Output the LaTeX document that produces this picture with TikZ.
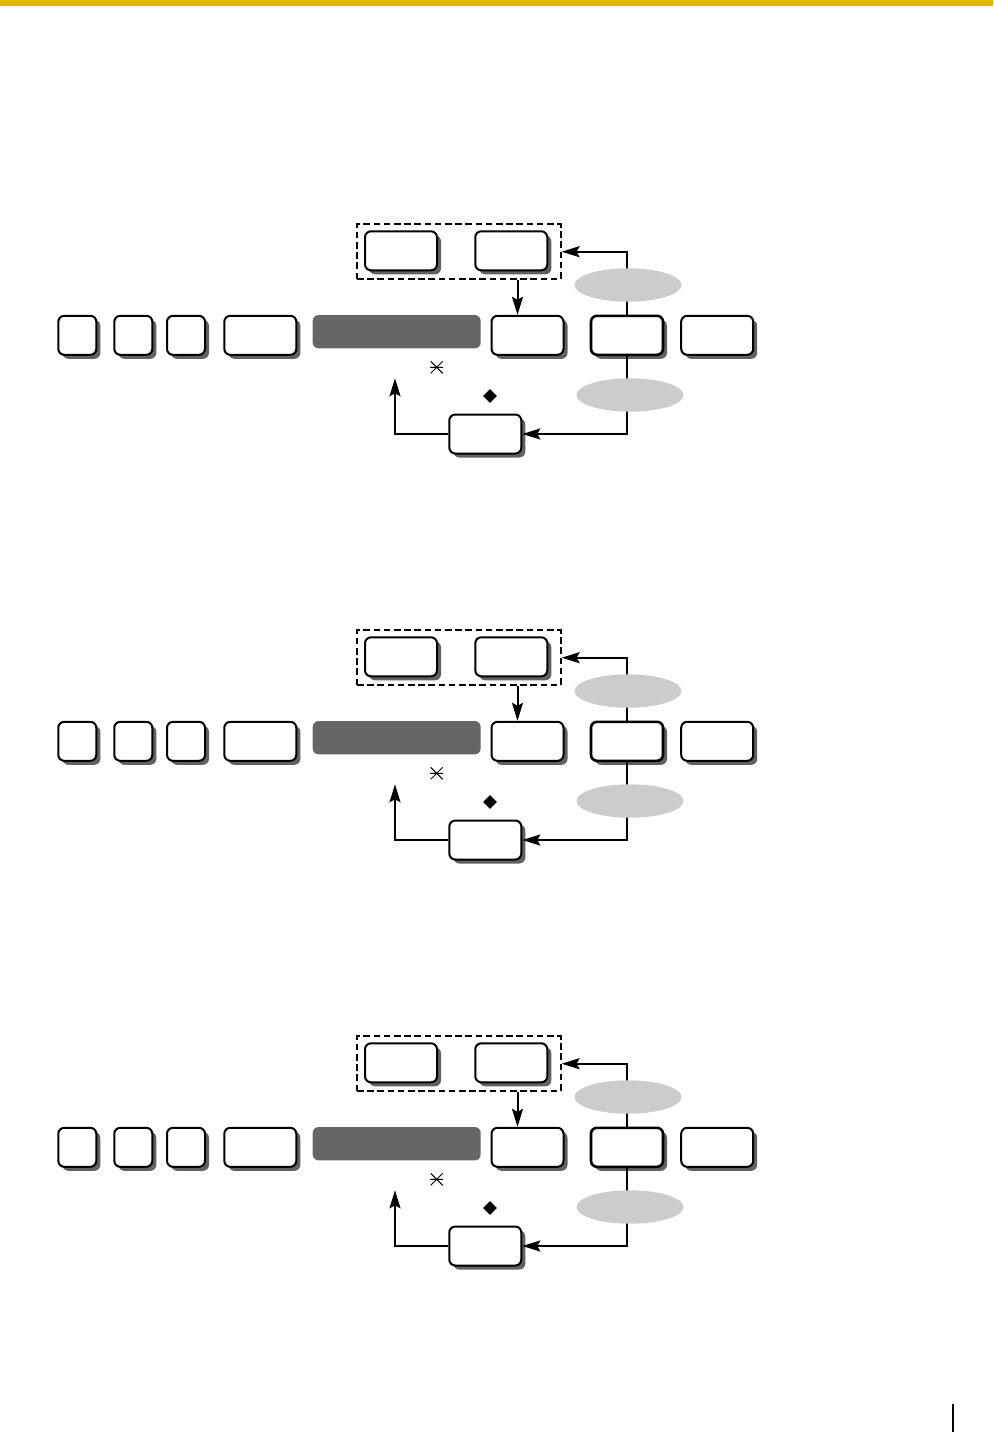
\documentclass[tikz,border=0pt]{standalone}
\usetikzlibrary{arrows.meta, calc, shadows, shapes.geometric}

\definecolor{pagegold}{RGB}{223,183,0}
\definecolor{bardark}{RGB}{102,102,102}
\definecolor{ovalgray}{RGB}{204,204,204}

\begin{document}
\begin{tikzpicture}[x=0.5pt, y=-0.5pt,
  keybox/.style={draw, line width=1pt, rounded corners=3pt, fill=white,
    minimum height=19.5pt, inner sep=0pt,
    drop shadow={shadow xshift=2pt, shadow yshift=-2pt, fill=black!62, opacity=1}},
  smallkey/.style={keybox, minimum width=19pt},
  widekey/.style={keybox, minimum width=36pt},
  darkbar/.style={fill=bardark, rounded corners=3pt, minimum width=84pt,
    minimum height=16.7pt, inner sep=0pt},
  grpbox/.style={draw, line width=1pt, dash pattern=on 3.3pt off 1.8pt,
    minimum width=101.8pt, minimum height=27.3pt, inner sep=0pt},
  oval/.style={ellipse, fill=ovalgray, minimum width=53.5pt, minimum height=16.7pt, inner sep=0pt},
  arr/.style={-{Stealth[length=9pt, width=5.5pt, inset=1.5pt]}, line width=1pt},
  gem/.style={diamond, fill=black, minimum size=7pt, inner sep=0pt}]

\useasboundingbox (0,0) rectangle (993,1432);

% Page header rule and page edge mark
\fill[pagegold] (0,0) rectangle (993,6);
\draw[line width=1pt] (952.7,1404) -- (952.7,1432);

% The same key sequence, three times
\foreach \dy/\tg in {0/a, 406/b, 812/c} {
  \begin{scope}[shift={(0,\dy)}]
    % Keys in a row
    \node[smallkey] (k1\tg) at (77.3,335.3) {};
    \node[smallkey] (k2\tg) at (133.3,335.3) {};
    \node[smallkey] (k3\tg) at (186,335.3) {};
    \node[widekey]  (k4\tg) at (260.3,335.3) {};
    \node[darkbar]  (bar\tg) at (396.7,331.7) {};
    \node[widekey]  (k5\tg) at (527.5,335.3) {};
    \node[widekey, line width=1.3pt] (k6\tg) at (627,335.3) {};
    \node[widekey]  (k7\tg) at (717.2,335.3) {};

    % Choice of two keys
    \node[grpbox]   (grp\tg) at (458.8,251.7) {};
    \node[widekey]  (ka\tg) at (401,250.8) {};
    \node[widekey]  (kb\tg) at (511.3,250.8) {};

    % Return key
    \node[widekey]  (k8\tg) at (485.3,434) {};

    % Connectors
    \coordinate (dn\tg) at ($(k5\tg.north)+(-10,0)$);
    \draw[arr] (dn\tg |- grp\tg.south) -- (dn\tg);
    \draw[arr] (k6\tg.north) |- (grp\tg.east);
    \draw[arr] (k6\tg.south) |- (k8\tg.east);
    \coordinate (back\tg) at (395,378.3);
    \draw[arr] (k8\tg.west) -| (back\tg);

    % Grey ovals on the loop
    \node[oval] (ov1\tg) at (628,285) {};
    \node[oval] (ov2\tg) at (630,395) {};

    % Marks
    \coordinate (ast\tg) at (436.7,367.3);
    \draw[line width=0.5pt] ($(ast\tg)+(-6.5,0)$) -- ($(ast\tg)+(6.5,0)$)
      ($(ast\tg)+(-6,-6)$) -- ($(ast\tg)+(6,6)$)
      ($(ast\tg)+(-6,6)$) -- ($(ast\tg)+(6,-6)$);
    \node[gem] (dia\tg) at (490,396) {};
  \end{scope}
}

\end{tikzpicture}
\end{document}
